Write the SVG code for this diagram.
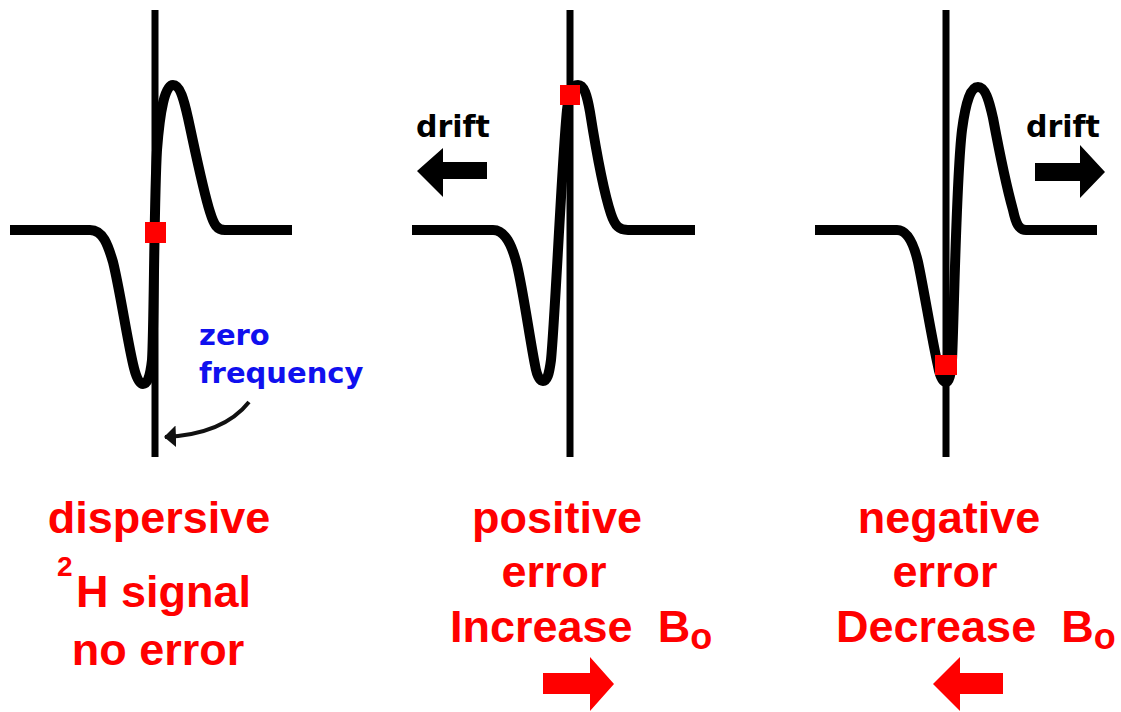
<svg xmlns="http://www.w3.org/2000/svg" width="1121" height="712" viewBox="0 0 1121 712">
<style>
.axis{stroke:#000;stroke-width:7;fill:none}
.sig{stroke:#000;stroke-width:10;fill:none;stroke-linejoin:round;stroke-linecap:butt}
.pt{fill:#ff0000}
.lbl{font-family:"Liberation Sans",Arial,sans-serif;font-weight:bold;font-size:45px;fill:#ff0000}
.drift{font-family:"DejaVu Sans",sans-serif;font-weight:bold;font-size:30px;fill:#000}
.zf{font-family:"DejaVu Sans",sans-serif;font-weight:bold;font-size:29px;fill:#1010ee}
</style>
<defs>
<marker id="ah" viewBox="0 0 12 22" refX="11" refY="11" markerWidth="12" markerHeight="22" orient="auto" markerUnits="userSpaceOnUse">
<path d="M0,0 L12,11 L0,22 z" fill="#111"/>
</marker>
</defs>
<rect width="1121" height="712" fill="#fff"/>

<g id="panel1">
<line class="axis" x1="155" y1="10" x2="155" y2="457"/>
<path class="sig" d="M 10 230 L 90 230 C 103 230, 108 245, 113 262 C 120 290, 128 345, 134 368 C 137 380, 140 384, 143 384 C 147 384, 150 378, 152 360 C 154 330, 154 200, 157 150 C 160 110, 165 85, 173 85 C 180 85, 184 100, 188 118 C 195 150, 203 190, 210 212 C 214 225, 217 230, 225 230 L 292 230"/>
<rect class="pt" x="145" y="222" width="21" height="21"/>
<text class="zf" x="199" y="345">zero</text>
<text class="zf" x="199" y="383">frequency</text>
<text class="lbl" x="159" y="533" text-anchor="middle">dispersive</text>
<text class="lbl" x="57" y="607"><tspan font-size="28" dy="-31">2</tspan><tspan x="76" dy="31">H signal</tspan></text>
<text class="lbl" x="158" y="665" text-anchor="middle">no error</text>
</g>

<g id="panel2">
<line class="axis" x1="570" y1="10" x2="570" y2="457"/>
<path class="sig" d="M 412 230 L 493 230 C 505 230, 512 245, 517 265 C 523 290, 530 340, 535 365 C 537 377, 540 381, 543 381 C 547 381, 549 375, 551 360 C 555 320, 562 160, 567 110 C 569 92, 572 85, 578 85 C 584 85, 587 95, 590 112 C 596 150, 603 190, 611 214 C 615 226, 619 230, 628 230 L 695 230"/>
<rect class="pt" x="560" y="85" width="20" height="20"/>
<text class="drift" x="416" y="137">drift</text>
<polygon points="417,171 443,148 443,162 487,162 487,179 443,179 443,197" fill="#000"/>
<text class="lbl" x="557" y="533" text-anchor="middle">positive</text>
<text class="lbl" x="554" y="587" text-anchor="middle">error</text>
<text class="lbl" x="450" y="642" xml:space="preserve">Increase  B<tspan dy="7" font-size="36">o</tspan></text>
<polygon points="543,673 590,673 590,657 614,684 590,711 590,694 543,694" fill="#ff0000"/>
</g>

<g id="panel3">
<line class="axis" x1="946" y1="10" x2="946" y2="457"/>
<path class="sig" d="M 815 230 L 897 230 C 908 230, 914 245, 918 262 C 924 290, 932 340, 938 366 C 940 377, 943 382, 946 382 C 949 382, 951 375, 952 360 C 954 320, 956 180, 962 130 C 966 100, 971 87, 978 87 C 985 87, 989 100, 993 118 C 999 150, 1006 185, 1013 210 C 1016 224, 1019 230, 1026 230 L 1097 230"/>
<rect class="pt" x="935" y="355" width="22" height="20"/>
<text class="drift" x="1026" y="137">drift</text>
<polygon points="1035,163 1080,163 1080,145 1105,172 1080,198 1080,181 1035,181" fill="#000"/>
<text class="lbl" x="949" y="533" text-anchor="middle">negative</text>
<text class="lbl" x="945" y="587" text-anchor="middle">error</text>
<text class="lbl" x="836" y="642" xml:space="preserve">Decrease  B<tspan dy="7" font-size="36">o</tspan></text>
<polygon points="1003,673 960,673 960,657 933,684 960,711 960,694 1003,694" fill="#ff0000"/>
</g>

<g id="connectors">
<path d="M 249 402 C 234 421, 208 435, 165 437" fill="none" stroke="#111" stroke-width="4" marker-end="url(#ah)"/>
</g>
</svg>
